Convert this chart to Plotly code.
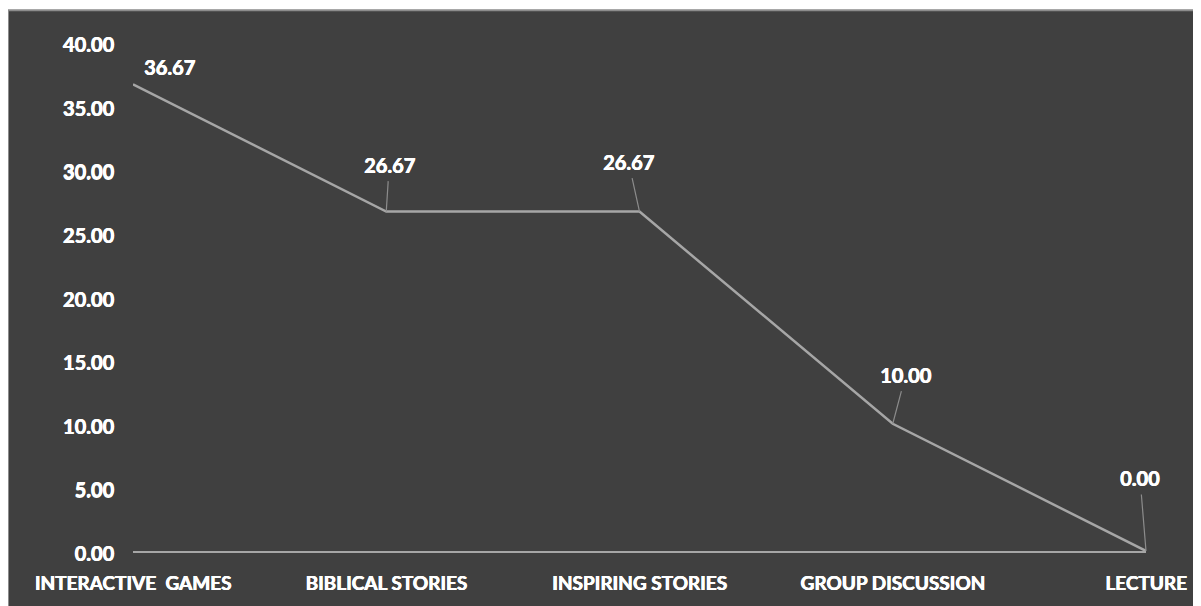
import plotly.graph_objects as go

categories = ["INTERACTIVE  GAMES", "BIBLICAL STORIES", "INSPIRING STORIES", "GROUP DISCUSSION", "LECTURE"]
values = [36.67, 26.67, 26.67, 10.00, 0.00]
y_ticks = [0, 5, 10, 15, 20, 25, 30, 35, 40]

# page body has an 8px margin; figure sized so it fills the rest of the window
BODY = 8
W, H = 1201 - BODY, 606 - BODY
ML, MR, MT, MB = 133 - BODY, 55, 42 - BODY, 52
PW, PH = W - ML - MR, H - MT - MB

def px_x(px):
    return (px - ML) / PW

def px_y(py):
    return (H - MB - py) / PH

FONT = "Lato"
SHADOW = "0.6px 0 0 #ffffff, 0 0.3px 0 #ffffff"
txt = dict(family=FONT, size=20, color="white", weight=700, shadow=SHADOW)
xtxt = dict(family=FONT, size=19, color="white", weight=700, shadow=SHADOW)

fig = go.Figure()
fig.add_trace(go.Scatter(
    x=list(range(len(categories))), y=values, mode="lines",
    line=dict(color="#a6a6a6", width=2.5), hoverinfo="skip", showlegend=False,
))

# label offsets (pixels) for data labels with leader lines
offsets = [(36, -17, False), (3, -47, True), (-11, -50, True), (13, -49, True), (-6, -73, True)]
for i, (v, (ax, ay, arrow)) in enumerate(zip(values, offsets)):
    if arrow:
        fig.add_annotation(x=i, y=v, text=f"{v:.2f}", showarrow=True, arrowhead=0,
                           ax=ax, ay=ay, arrowcolor="#8c8c8c", arrowwidth=1.2,
                           standoff=0, startstandoff=3, font=txt)
    else:
        fig.add_annotation(x=i, y=v, text=f"{v:.2f}", showarrow=False,
                           xshift=ax, yshift=-ay, font=txt)

fig.add_shape(type="rect", xref="paper", yref="paper",
              x0=px_x(0), x1=px_x(W + 10), y0=px_y(H + 10), y1=px_y(2),
              fillcolor="#404040", line=dict(color="#8c8c8c", width=2), layer="below")

fig.update_layout(
    width=W, height=H,
    margin=dict(l=ML, r=MR, t=MT, b=MB),
    paper_bgcolor="white", plot_bgcolor="rgba(0,0,0,0)",
    font=txt,
    xaxis=dict(range=[0, len(categories) - 1], tickmode="array",
               tickvals=list(range(len(categories))), ticktext=categories,
               showgrid=False, zeroline=False, showline=True, linecolor="#a6a6a6",
               linewidth=2, ticks="", ticklabelstandoff=14, tickfont=xtxt, fixedrange=True),
    yaxis=dict(range=[0, 40], tickmode="array", tickvals=y_ticks,
               ticktext=[f"{t:.2f}" for t in y_ticks],
               showgrid=False, zeroline=False, showline=False, ticks="",
               ticklabelstandoff=18, ticklabelshift=3, tickfont=txt, fixedrange=True),
)
fig.update_traces(cliponaxis=False)

fig.write_html("out.html")
